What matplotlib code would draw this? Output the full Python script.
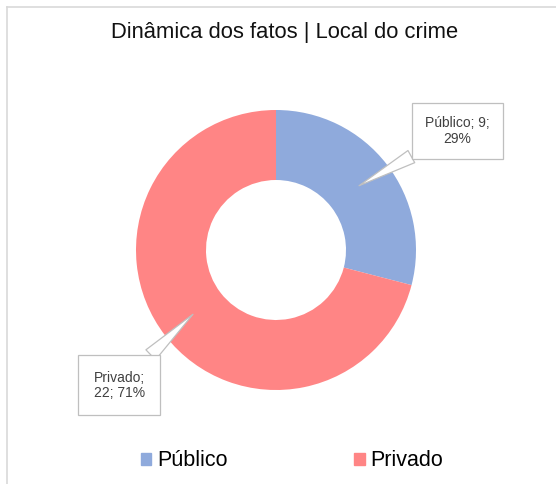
import numpy as np
import matplotlib.pyplot as plt
from matplotlib.patches import Patch

plt.rcParams['font.family'] = ['Liberation Sans', 'DejaVu Sans']

labels = ['Público', 'Privado']
values = [9, 22]
colors = ['#8faadc', '#ff8585']
title = 'Dinâmica dos fatos | Local do crime'

W, H = 556, 484
fig = plt.figure(figsize=(W / 100, H / 100), dpi=100)

# light frame around chart area
fig.add_artist(plt.Line2D([7 / W, 1], [1 - 7 / H, 1 - 7 / H], color='#d9d9d9', lw=1.2))
fig.add_artist(plt.Line2D([7 / W, 7 / W], [0, 1 - 7 / H], color='#d9d9d9', lw=1.2))

cx, cy, r = 276, 250, 140
ax = fig.add_axes([(cx - r) / W, (H - cy - r) / H, 2 * r / W, 2 * r / H])

wedges, _ = ax.pie(values, colors=colors, startangle=90, counterclock=False,
                   radius=1, wedgeprops=dict(width=0.5, linewidth=0))
ax.set_xlim(-1, 1)
ax.set_ylim(-1, 1)
ax.set_aspect('auto')
ax.axis('off')

total = sum(values)
offsets = [(1.295, 0.85), (-1.12, -0.965)]
texts = ['%s; %d;\n%d%%', '%s;\n%d; %d%%']
pads = [0.95, 1.1]
for w, lab, v, off, t, p in zip(wedges, labels, values, offsets, texts, pads):
    ang = np.deg2rad((w.theta1 + w.theta2) / 2)
    tip = (0.75 * np.cos(ang), 0.75 * np.sin(ang))
    ax.annotate(t % (lab, v, round(100 * v / total)), xy=tip, xytext=off,
                ha='center', va='center', multialignment='center',
                fontsize=10, color='#404040',
                linespacing=1.1, annotation_clip=False,
                bbox=dict(boxstyle='square,pad=%s' % p, fc='white', ec='#bfbfbf', lw=0.9),
                arrowprops=dict(arrowstyle='wedge,tail_width=1.0,shrink_factor=0.5',
                                fc='white', ec='#bfbfbf', lw=0.9,
                                shrinkA=0, shrinkB=0))

fig.text(285 / W, 1 - 33 / H, title, ha='center', va='center', fontsize=15.8, color='#111111')

handles = [Patch(color=c) for c in colors]
fig.legend(handles, labels, loc='center', bbox_to_anchor=(292 / W, 1 - 461 / H), ncol=2,
           frameon=False, fontsize=15.5, handlelength=0.5, handleheight=0.5,
           handletextpad=0.25, columnspacing=5.9)

fig.savefig('out.png', dpi=100)
